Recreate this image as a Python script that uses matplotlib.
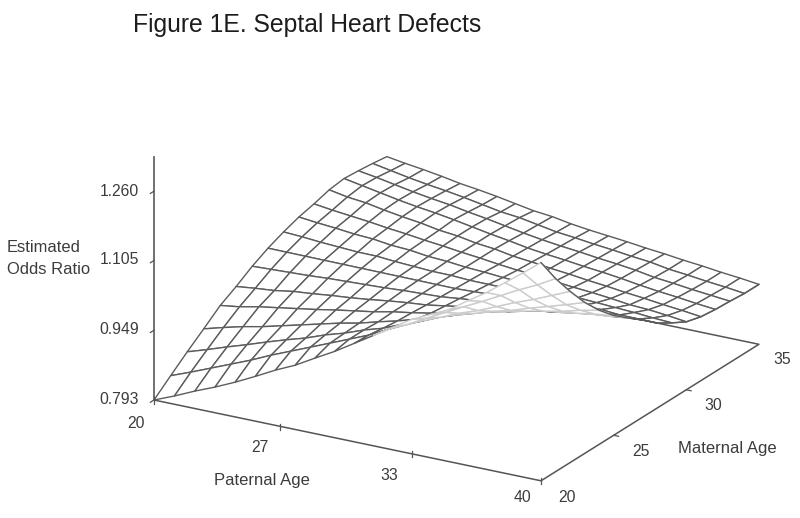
import numpy as np
import matplotlib
matplotlib.use("Agg")
import matplotlib.pyplot as plt
from mpl_toolkits.mplot3d import proj3d

plt.rcParams['font.family'] = ['Liberation Sans', 'DejaVu Sans']

title = "Figure 1E. Septal Heart Defects"
paternal_age = list(range(20, 41))
maternal_age = list(range(20, 36))
z_ticks = [0.793, 0.949, 1.105, 1.260]
z_labels = ["0.793", "0.949", "1.105", "1.260"]
z_top = 1.337
paternal_ticks = [26.5, 33.33]
paternal_labels = ["20", "27", "33", "40"]
maternal_ticks = [25, 30]
maternal_labels = ["20", "25", "30", "35"]

odds_ratio = [
    [.793,.811,.831,.849,.869,.891,.914,.934,.959,.983,1.010,1.037,1.064,1.091,1.111,1.131,1.160,1.187,1.218,1.249,1.281],
    [.827,.844,.862,.880,.898,.918,.936,.954,.972,.990,1.008,1.030,1.050,1.073,1.095,1.117,1.138,1.160,1.182,1.202,1.225],
    [.860,.874,.889,.903,.918,.932,.945,.961,.974,.990,1.003,1.021,1.037,1.055,1.073,1.088,1.106,1.124,1.140,1.158,1.176],
    [.891,.903,.914,.923,.934,.945,.956,.967,.976,.988,.999,1.012,1.026,1.039,1.052,1.066,1.077,1.091,1.104,1.117,1.131],
    [.923,.929,.938,.945,.952,.959,.967,.974,.981,.990,.997,1.005,1.017,1.026,1.035,1.044,1.055,1.064,1.073,1.084,1.093],
    [.945,.950,.954,.961,.965,.970,.974,.979,.985,.990,.994,1.001,1.008,1.014,1.021,1.028,1.035,1.041,1.048,1.055,1.061],
    [.970,.972,.974,.976,.979,.981,.983,.985,.988,.990,.992,.997,1.001,1.006,1.010,1.012,1.017,1.021,1.026,1.030,1.035],
    [.990,.990,.990,.990,.990,.990,.990,.990,.990,.990,.990,.992,.994,.997,.999,.999,1.001,1.003,1.006,1.008,1.010],
    [1.006,1.004,1.001,.999,.997,.997,.994,.992,.990,.990,.988,.988,.988,.986,.986,.986,.986,.986,.983,.983,.983],
    [1.019,1.015,1.012,1.008,1.006,1.001,.999,.994,.992,.988,.986,.983,.981,.979,.977,.974,.972,.970,.968,.965,.963],
    [1.028,1.023,1.019,1.015,1.010,1.006,1.001,.997,.992,.988,.983,.979,.977,.972,.968,.965,.961,.956,.954,.950,.945],
    [1.039,1.032,1.028,1.021,1.015,1.010,1.003,.999,.992,.988,.981,.977,.972,.968,.963,.959,.954,.950,.945,.941,.936],
    [1.044,1.037,1.030,1.023,1.017,1.012,1.006,.999,.992,.986,.979,.974,.970,.965,.961,.956,.950,.945,.941,.936,.932],
    [1.041,1.035,1.028,1.021,1.015,1.010,1.003,.997,.990,.983,.977,.972,.968,.963,.959,.954,.947,.943,.938,.934,.930],
    [1.037,1.030,1.023,1.017,1.012,1.006,.999,.992,.988,.981,.974,.970,.965,.961,.956,.952,.945,.941,.936,.932,.927],
    [1.032,1.026,1.021,1.015,1.008,1.003,.997,.990,.983,.979,.972,.967,.963,.959,.954,.950,.945,.941,.936,.932,.927],
]

W, H = 800, 518
fig = plt.figure(figsize=(W / 100, H / 100), dpi=100, facecolor='white')


def place(s, cx, cy):
    ax.set_position([(cx - s / 2) / W, (cy - s / 2) / H, s / W, s / H])
    ax.apply_aspect()


ax = fig.add_axes([0.1, 0.1, 0.6, 0.6], projection='3d', computed_zorder=False)
ax.set_proj_type('ortho')
ax.view_init(elev=21.2, azim=-60)
ax.set_box_aspect((447, 436, 261))
ax.set_xlim(20, 40)
ax.set_ylim(20, 35)
ax.set_zlim(z_ticks[0], z_top)
ax.set_axis_off()
ax.patch.set_visible(False)


def disp(px, py, pz):
    u, v, _ = proj3d.proj_transform(np.atleast_1d(px), np.atleast_1d(py), np.atleast_1d(pz), ax.get_proj())
    return ax.transData.transform(np.column_stack([u, v]))


# Fit the axes box so that the plot floor lands on the reference position
s0, cx0, cy0 = 500.0, 400.0, 259.0
place(s0, cx0, cy0)
a = disp(20, 20, z_ticks[0])[0]
b = disp(40, 20, z_ticks[0])[0]
s1 = s0 * (541 - 154) / (b[0] - a[0])
ua = (a - np.array([cx0, cy0])) / s0
place(s1, 154 - s1 * ua[0], (H - 400) - s1 * ua[1])

X, Y = np.meshgrid(paternal_age, maternal_age)
Z = np.array(odds_ratio)

# The reference's projection is not a pure parallel one: raised points on the
# young-father side lean to the right. Reproduce that lean on the mesh.
lean = 3.23 * (Z - z_ticks[0]) * (40 - X) / 20
Xs = X + lean
Zs = Z + lean * 4.05 / 447

# Cells seen from beneath are drawn in a paler line, as in the reference
pts = disp(Xs.ravel(), Y.ravel(), Zs.ravel()).reshape(X.shape + (2,))
dp = pts[:-1, 1:] - pts[:-1, :-1]
dm = pts[1:, :-1] - pts[:-1, :-1]
under = (dp[..., 0] * dm[..., 1] - dp[..., 1] * dm[..., 0]) < 0
edge = np.where(under[..., None], np.array([[[.80, .80, .80, 1]]]), np.array([[[.36, .36, .36, 1]]])).reshape(-1, 4)

floor_c, lw = '#555555', 1.1
ax.plot([20, 40, 40, 20], [20, 20, 35, 35], [z_ticks[0]] * 4, color=floor_c, lw=lw, zorder=1)
ax.plot_surface(Xs, Y, Zs, rstride=1, cstride=1, color='white', edgecolors=edge,
                linewidth=1.0, shade=False, antialiased=True, zorder=2)
# the near edge of the surface stays dark all the way up to the peak
ax.plot(Xs[:, -1], Y[:, -1], Zs[:, -1], color='#5c5c5c', lw=1.0, zorder=2.5)
ax.plot([20, 20], [20, 20], [z_ticks[0], z_top], color='#666666', lw=1.3, zorder=3)

# tick marks
for t in z_ticks:
    ax.plot([20, 20], [20.0, 19.75], [t, t], color='#555555', lw=0.9, zorder=3)
for t in paternal_ticks + [20, 40]:
    ax.plot([t, t], [20, 20], [z_ticks[0] - 0.008, z_ticks[0] + 0.006], color='#555555', lw=0.9, zorder=3)
for t in maternal_ticks:
    ax.plot([40, 40.25], [t, t], [z_ticks[0]] * 2, color='#555555', lw=0.9, zorder=3)


def label(px, py, txt, size=11.3, ha='center', color='#3c3c3c'):
    fig.text(px / W, 1 - py / H, txt, fontsize=size, ha=ha, va='center', color=color)


fig.text(133 / W, 1 - 25 / H, title, fontsize=17.8, ha='left', va='center', color='#1c1c1c')
for y, t in zip([399, 329, 260, 191], z_labels):
    label(139, y, t, ha='right')
label(7, 248, "Estimated", ha='left', size=11.9)
label(7, 269, "Odds Ratio", ha='left', size=11.9)
for (x, y), t in zip([(136, 423), (260, 448), (389, 476), (522, 498)], paternal_labels):
    label(x, y, t)
for (x, y), t in zip([(567, 498), (641, 451), (713, 406), (782, 359)], maternal_labels):
    label(x, y, t)
label(262, 481, "Paternal Age", size=12)
label(727, 449, "Maternal Age", size=12)

fig.savefig("out.png", dpi=100, facecolor='white')
